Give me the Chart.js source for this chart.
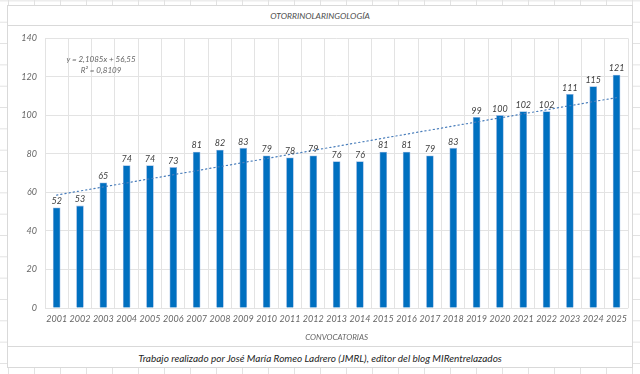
<!DOCTYPE html>
<html>
<head>
<meta charset="utf-8">
<script src="https://cdn.jsdelivr.net/npm/chart.js@4.4.1/dist/chart.umd.min.js"></script>
<style>
  html, body { margin: 0; padding: 0; }
  body {
    width: 640px; height: 374px; overflow: hidden; position: relative;
    background-color: #ffffff;
    background-image: linear-gradient(to right, #e2e2e2 1px, transparent 1px),
                      linear-gradient(to bottom, #e2e2e2 1px, transparent 1px);
    background-size: 26px 21.33px;
    background-position: 8px 0.4px;
    font-family: Lato, "Open Sans", sans-serif;
  }
  #box {
    position: absolute; left: 7px; top: 5px; width: 626px; height: 363px;
    background: #fff; box-sizing: border-box; border: 1px solid #d9d9d9;
  }
  .hline { position: absolute; left: 7px; width: 626px; height: 0; border-top: 1px solid #d9d9d9; }
  #title {
    position: absolute; left: 7px; width: 626px; top: 10px; text-align: center;
    font: italic 8.5px Lato, sans-serif; color: #4d4d4d; line-height: 12px;
  }
  #footer {
    position: absolute; left: 7px; width: 626px; top: 351px; text-align: center;
    font: italic 10px Lato, sans-serif; color: #262626; line-height: 14px;
  }
  #eq {
    position: absolute; left: 55px; width: 92px; top: 54px; text-align: center;
    font: italic 8px Lato, sans-serif; color: #666666; line-height: 11px;
  }
  #wrap { position: absolute; left: 7px; top: 25px; width: 626px; height: 321px; }
</style>
</head>
<body>
<div id="box"></div>
<div class="hline" style="top:25px"></div>
<div class="hline" style="top:346px"></div>
<div id="title">OTORRINOLARINGOLOGÍA</div>
<div id="wrap"><canvas id="c"></canvas></div>
<div id="eq"><div id="eq1"></div><div id="eq2"></div></div>
<div id="footer">Trabajo realizado por José María Romeo Ladrero (JMRL), editor del blog MIRentrelazados</div>
<script>
const categories = ["2001","2002","2003","2004","2005","2006","2007","2008","2009","2010","2011","2012","2013","2014","2015","2016","2017","2018","2019","2020","2021","2022","2023","2024","2025"];
const plazas = [52,53,65,74,74,73,81,82,83,79,78,79,76,76,81,81,79,83,99,100,102,102,111,115,121];
const yTicks = [0,20,40,60,80,100,120,140];
const titleText = "OTORRINOLARINGOLOGÍA";
const xTitle = "CONVOCATORIAS";

// Linear trendline (least squares on x = 1..n), as the spreadsheet does
const n = plazas.length;
let sx = 0, sy = 0, sxx = 0, sxy = 0;
plazas.forEach((v, i) => { const x = i + 1; sx += x; sy += v; sxx += x * x; sxy += x * v; });
const slope = (n * sxy - sx * sy) / (n * sxx - sx * sx);
const intercept = (sy - slope * sx) / n;
const trend = plazas.map((v, i) => slope * (i + 1) + intercept);
const meanY = sy / n;
let ssTot = 0, ssRes = 0;
plazas.forEach((v, i) => { ssTot += (v - meanY) ** 2; ssRes += (v - trend[i]) ** 2; });
const r2 = 1 - ssRes / ssTot;
const fmt = (v, d) => v.toFixed(d).replace('.', ',');
document.getElementById('eq1').textContent = 'y = ' + fmt(slope, 4) + 'x + ' + fmt(intercept, 2);
document.getElementById('eq2').textContent = 'R² = ' + fmt(r2, 4);

const labelPlugin = {
  id: 'barLabels',
  afterDatasetsDraw(chart) {
    const meta = chart.getDatasetMeta(1);
    const ctx = chart.ctx;
    ctx.save();
    ctx.font = 'italic 9px Lato, sans-serif';
    ctx.fillStyle = '#404040';
    ctx.textAlign = 'center';
    ctx.textBaseline = 'bottom';
    meta.data.forEach((el, i) => {
      ctx.fillText(String(plazas[i]), el.x, el.y - 2);
    });
    ctx.restore();
  }
};

new Chart(document.getElementById('c'), {
  data: {
    labels: categories,
    datasets: [
      {
        type: 'line', data: trend, order: 0,
        borderColor: '#4a7ebb', borderWidth: 1.2, borderDash: [1.2, 3],
        borderCapStyle: 'round', pointRadius: 0, fill: false, tension: 0
      },
      {
        type: 'bar', data: plazas, order: 1,
        backgroundColor: '#0070C0', borderColor: '#8fb4e0', borderWidth: 0.8,
        barThickness: 7
      }
    ]
  },
  options: {
    responsive: true, maintainAspectRatio: false, animation: false,
    layout: { padding: { top: 12, right: 0, left: 0, bottom: 0 } },
    plugins: { legend: { display: false }, tooltip: { enabled: false }, title: { display: false } },
    scales: {
      x: {
        offset: true,
        grid: { color: '#e3e3e3', offset: true, drawTicks: false, lineWidth: 1 },
        border: { display: false },
        ticks: { font: { family: 'Lato', style: 'italic', size: 9 }, color: '#666666', padding: 6, maxRotation: 0, autoSkip: false },
        title: { display: true, text: xTitle, font: { family: 'Lato', style: 'italic', size: 8 }, color: '#666666', padding: { top: 0, bottom: 4 } },
        afterFit(s) { s.height = 38; }
      },
      y: {
        min: 0, max: 140,
        afterBuildTicks(s) { s.ticks = yTicks.map(v => ({ value: v })); },
        grid: { color: '#e3e3e3', drawTicks: false },
        border: { display: false },
        ticks: { font: { family: 'Lato', style: 'italic', size: 9 }, color: '#666666', padding: 8 },
        afterFit(s) { s.width = 38; }
      }
    }
  },
  plugins: [labelPlugin]
});
</script>
</body>
</html>
